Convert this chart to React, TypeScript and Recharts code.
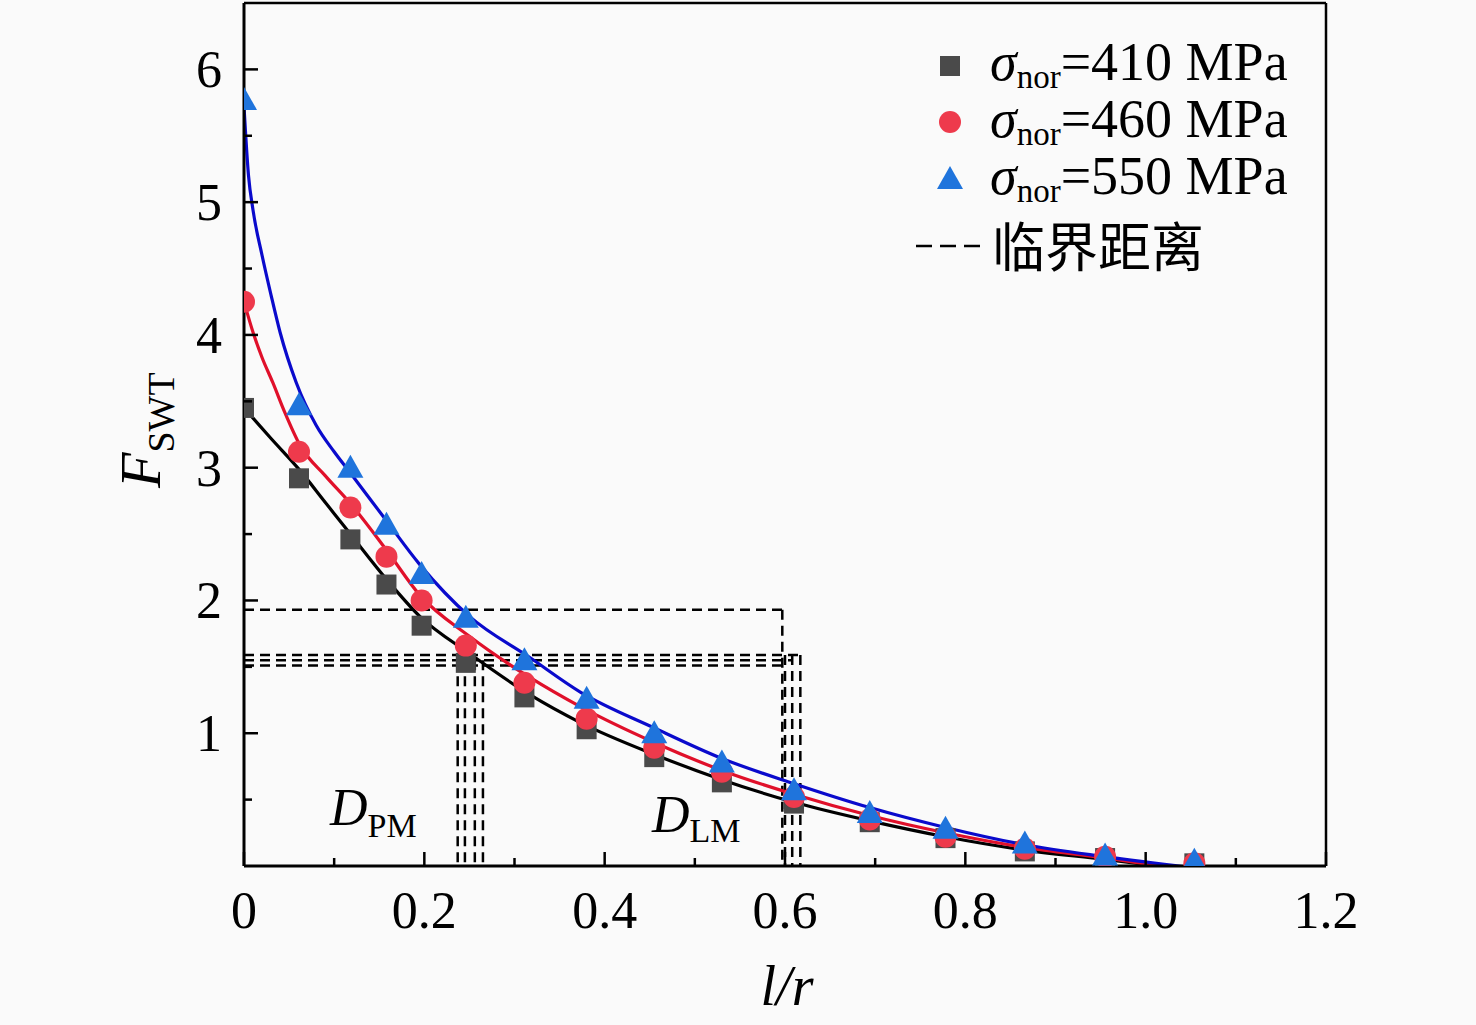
import React from 'react';
import {
  ComposedChart,
  XAxis,
  YAxis,
  Scatter,
  Line,
  ReferenceLine,
  Customized,
} from 'recharts';

// measured points: l/r and F_SWT for each nominal stress
const lr = [0, 0.061, 0.118, 0.158, 0.197, 0.246, 0.311, 0.38, 0.455, 0.53, 0.61, 0.694, 0.778, 0.866, 0.955, 1.054];
const f410 = [3.45, 2.92, 2.46, 2.12, 1.81, 1.53, 1.27, 1.03, 0.82, 0.63, 0.47, 0.33, 0.21, 0.11, 0.06, 0.02];
const f460 = [4.25, 3.12, 2.7, 2.33, 2.0, 1.66, 1.38, 1.11, 0.89, 0.71, 0.52, 0.35, 0.22, 0.13, 0.07, 0.02];
const f550 = [5.77, 3.47, 3.0, 2.57, 2.2, 1.87, 1.55, 1.26, 1.0, 0.78, 0.57, 0.4, 0.28, 0.17, 0.08, 0.04];

// fitted curves
const fitX410 = [0, 0.03, 0.062, 0.09, 0.118, 0.158, 0.195, 0.25, 0.317, 0.373, 0.455, 0.53, 0.61, 0.694, 0.778, 0.866, 0.955, 1.06];
const fitY410 = [3.45, 3.22, 2.98, 2.74, 2.5, 2.16, 1.88, 1.6, 1.29, 1.08, 0.84, 0.65, 0.48, 0.34, 0.22, 0.12, 0.05, -0.04];
const fitX460 = [0, 0.01, 0.02, 0.032, 0.045, 0.062, 0.09, 0.118, 0.158, 0.195, 0.25, 0.317, 0.373, 0.455, 0.53, 0.61, 0.694, 0.778, 0.866, 0.955, 1.06];
const fitY460 = [4.25, 4.02, 3.83, 3.64, 3.42, 3.17, 2.94, 2.73, 2.38, 2.04, 1.73, 1.42, 1.2, 0.93, 0.72, 0.54, 0.38, 0.25, 0.14, 0.06, -0.05];
const fitX550 = [0, 0.005, 0.01, 0.02, 0.03, 0.04, 0.058, 0.08, 0.1, 0.118, 0.158, 0.195, 0.25, 0.317, 0.373, 0.455, 0.53, 0.61, 0.694, 0.778, 0.866, 0.955, 1.06];
const fitY550 = [5.72, 5.2, 4.94, 4.6, 4.3, 4.02, 3.64, 3.32, 3.12, 2.96, 2.6, 2.27, 1.88, 1.57, 1.31, 1.04, 0.81, 0.62, 0.44, 0.29, 0.16, 0.07, -0.02];

// critical distance guides
const hLevels = [1.93, 1.59, 1.55, 1.51];
const hEnds = [0.597, 0.617, 0.608, 0.6];
const pmX = [0.237, 0.245, 0.256, 0.265];
const pmTop = 1.55;
const lmX = [0.597, 0.6, 0.608, 0.617];
const lmTop = [1.93, 1.59, 1.59, 1.59];

const xTicks = [0, 0.1, 0.2, 0.3, 0.4, 0.5, 0.6, 0.7, 0.8, 0.9, 1.0, 1.1, 1.2];
const yTicks = [0.5, 1, 1.5, 2, 2.5, 3, 3.5, 4, 4.5, 5, 5.5, 6];
const yMax = 6.5;
const seriesNames = ['410', '460', '550'];

const toPts = (xs: number[], ys: number[]) => xs.map((x, i) => ({ x, y: ys[i] }));
const s410 = toPts(lr, f410);
const s460 = toPts(lr, f460);
const s550 = toPts(lr, f550);
const c410 = toPts(fitX410, fitY410);
const c460 = toPts(fitX460, fitY460);
const c550 = toPts(fitX550, fitY550);

const SERIF = '"Liberation Serif", "Times New Roman", serif';
const CJK = '"Noto Sans CJK SC", sans-serif';

const SQ = '#4a4a4a';
const RD = '#ee3a4c';
const BL = '#1f74dc';

if (typeof document !== 'undefined') document.body.style.background = '#fafafa';

const isMajor = (v: number) => Math.abs(Math.round(v * 5) - v * 5) < 1e-6;

const XTick = (props: any) => {
  const { x, y, payload } = props;
  const v = payload.value;
  const major = isMajor(v);
  const label = v === 0 ? '0' : v.toFixed(1);
  return (
    <g>
      <line x1={x} x2={x} y1={y} y2={y - (major ? 14 : 8)} stroke="#000" strokeWidth={2.5} />
      {major && (
        <text x={x} y={y + 62} textAnchor="middle" fontFamily={SERIF} fontSize={52} fill="#000">
          {label}
        </text>
      )}
    </g>
  );
};

const YTick = (props: any) => {
  const { x, y, payload } = props;
  const v = payload.value;
  const major = Number.isInteger(v);
  return (
    <g>
      <line x1={x} x2={x + (major ? 14 : 8)} y1={y} y2={y} stroke="#000" strokeWidth={2.5} />
      {major && (
        <text x={x - 22} y={y + 18} textAnchor="end" fontFamily={SERIF} fontSize={52} fill="#000">
          {v}
        </text>
      )}
    </g>
  );
};

const Square = (p: any) => <rect x={p.cx - 10} y={p.cy - 10} width={20} height={20} fill={SQ} />;
const Dot = (p: any) => <circle cx={p.cx} cy={p.cy} r={11} fill={RD} />;
const Tri = (p: any) => (
  <polygon points={`${p.cx},${p.cy - 13} ${p.cx - 13},${p.cy + 10} ${p.cx + 13},${p.cy + 10}`} fill={BL} />
);

const Annotations = () => (
  <g fontFamily={SERIF} fill="#000">
    {/* legend */}
    <rect x={940} y={56} width={20} height={20} fill={SQ} />
    <circle cx={950} cy={122} r={11} fill={RD} />
    <polygon points="950,166 937,189 963,189" fill={BL} />
    {seriesNames.map((n, i) => (
      <text key={n} x={990} y={80 + i * 57} fontSize={54}>
        <tspan fontStyle="italic">σ</tspan>
        <tspan fontSize={33} dy={8}>nor</tspan>
        <tspan dy={-8}>{`=${n} MPa`}</tspan>
      </text>
    ))}
    <line x1={916} x2={986} y1={246} y2={246} stroke="#000" strokeWidth={2.5} strokeDasharray="16 8" />
    <text x={992} y={267} fontSize={53} fontFamily={CJK}>临界距离</text>

    {/* D_PM / D_LM */}
    <text x={330} y={825} fontSize={52}>
      <tspan fontStyle="italic">D</tspan>
      <tspan fontSize={34} dy={12}>PM</tspan>
    </text>
    <text x={652} y={832} fontSize={52}>
      <tspan fontStyle="italic">D</tspan>
      <tspan fontSize={34} dy={10}>LM</tspan>
    </text>

    {/* axis titles */}
    <text transform="translate(160,488) rotate(-90)" fontSize={58}>
      <tspan fontStyle="italic">F</tspan>
      <tspan fontSize={38} dy={14}>SWT</tspan>
    </text>
    <text x={787} y={1005} textAnchor="middle" fontSize={56} fontStyle="italic">l/r</text>
  </g>
);

export default function App() {
  return (
    <div style={{ position: 'absolute', left: 0, top: 0, width: 1476, height: 1025, background: '#fafafa' }}>
      <ComposedChart width={1476} height={1025} margin={{ top: 3, right: 149, bottom: 158, left: 243 }}>
        <XAxis
          dataKey="x"
          type="number"
          domain={[0, 1.2]}
          ticks={xTicks}
          interval={0}
          height={1}
          tickSize={0}
          tickMargin={0}
          tick={<XTick />}
          axisLine={{ stroke: '#000', strokeWidth: 3 }}
          tickLine={false}
          allowDataOverflow
        />
        <YAxis
          type="number"
          domain={[0, yMax]}
          ticks={yTicks}
          interval={0}
          width={1}
          tickSize={0}
          tickMargin={0}
          tick={<YTick />}
          axisLine={{ stroke: '#000', strokeWidth: 3 }}
          tickLine={false}
          allowDataOverflow
        />
        <YAxis yAxisId="right" orientation="right" type="number" domain={[0, yMax]} width={1} tick={false} tickLine={false} axisLine={{ stroke: '#000', strokeWidth: 2.5 }} />
        <ReferenceLine y={yMax} stroke="#000" strokeWidth={2.5} />

        {hLevels.map((lv, i) => (
          <ReferenceLine key={`h${i}`} segment={[{ x: 0, y: lv }, { x: hEnds[i], y: lv }]} stroke="#000" strokeWidth={2.5} strokeDasharray="10 6" />
        ))}
        {pmX.map((xv, i) => (
          <ReferenceLine key={`p${i}`} segment={[{ x: xv, y: pmTop }, { x: xv, y: 0 }]} stroke="#000" strokeWidth={2.5} strokeDasharray="10 6" />
        ))}
        {lmX.map((xv, i) => (
          <ReferenceLine key={`l${i}`} segment={[{ x: xv, y: lmTop[i] }, { x: xv, y: 0 }]} stroke="#000" strokeWidth={2.5} strokeDasharray="10 6" />
        ))}

        <Scatter data={s410} dataKey="y" shape={Square} isAnimationActive={false} />
        <Scatter data={s460} dataKey="y" shape={Dot} isAnimationActive={false} />
        <Scatter data={s550} dataKey="y" shape={Tri} isAnimationActive={false} />

        <Line data={c410} dataKey="y" type="monotone" dot={false} stroke="#000000" strokeWidth={3.2} isAnimationActive={false} />
        <Line data={c460} dataKey="y" type="monotone" dot={false} stroke="#e0102a" strokeWidth={3.2} isAnimationActive={false} />
        <Line data={c550} dataKey="y" type="monotone" dot={false} stroke="#0a0acc" strokeWidth={3.2} isAnimationActive={false} />

        <Customized component={Annotations} />
      </ComposedChart>
    </div>
  );
}
